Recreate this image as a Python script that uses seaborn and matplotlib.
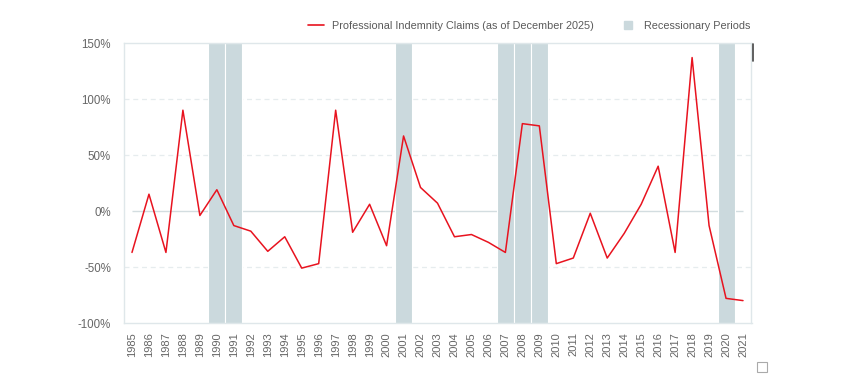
import matplotlib
matplotlib.use('Agg')  # no GUI

import matplotlib.pyplot as plt
from matplotlib.lines import Line2D
from matplotlib.patches import Rectangle
import seaborn as sns

years = list(range(1985, 2022))
claims = [-37, 15, -37, 90, -4, 19, -13, -18, -36, -23, -51, -47, 90, -19, 6,
          -31, 67, 21, 7, -23, -21, -28, -37, 78, 76, -47, -42, -2, -42, -20,
          6, 40, -37, 137, -13, -78, -80]
recession_years = [1990, 1991, 2001, 2007, 2008, 2009, 2020]
y_ticks = [-100, -50, 0, 50, 100, 150]
y_labels = ['-100%', '-50%', '0%', '50%', '100%', '150%']

line_label = 'Professional Indemnity Claims (as of December 2025)'
band_label = 'Recessionary Periods'

red = '#e8131f'
band = '#cbd9dd'
light = '#dfe7ea'
txt = '#666666'

sns.set_theme(style='white')
plt.rcParams['font.family'] = ['Liberation Sans', 'DejaVu Sans']

fig = plt.figure(figsize=(8.5, 3.84), dpi=100)
ax = fig.add_axes([123.5 / 850, 61 / 384, 628 / 850, 280 / 384])

ax.set_xlim(years[0] - 0.5, years[-1] + 0.5)
ax.set_ylim(y_ticks[0], y_ticks[-1])

# dashed grid (not on 0 and not on the frame)
for v in y_ticks[1:-1]:
    if v != 0:
        ax.axhline(v, color='#e6ecee', lw=0.9, ls=(0, (4, 3)), zorder=0)
ax.hlines(0, years[0], years[-1], color='#d3dde0', lw=1.0, zorder=0)

# recession bands
ax.bar(recession_years, y_ticks[-1] - y_ticks[0], bottom=y_ticks[0], width=1,
       color=band, edgecolor='white', linewidth=0.8, zorder=1)

sns.lineplot(x=years, y=claims, color=red, lw=1.1, ax=ax, zorder=3)

ax.set_xticks(years)
ax.set_xticklabels([str(y) for y in years], rotation=90, fontsize=8, color=txt)
ax.set_yticks(y_ticks)
ax.set_yticklabels(y_labels, fontsize=8.3, color=txt)
ax.tick_params(axis='x', length=0, pad=6.5)
ax.tick_params(axis='y', length=0, pad=9)
ax.set_xlabel('')
ax.set_ylabel('')
for s in ax.spines.values():
    s.set_color(light)
    s.set_linewidth(1.0)

handles = [
    Line2D([0], [0], color=red, lw=1.2),
    Line2D([0], [0], marker='s', color='none', markerfacecolor=band,
           markeredgecolor=band, markersize=6),
]
fig.legend(handles, [line_label, band_label], loc='center right',
           bbox_to_anchor=(755 / 850, 1 - 26 / 384), ncol=2, frameon=False,
           fontsize=7.8, labelcolor='#5a5a5a', handlelength=1.4,
           handletextpad=0.8, columnspacing=2.45, borderaxespad=0)

# small artifacts from the original screenshot
fig.add_artist(Line2D([752.5 / 850, 752.5 / 850], [1 - 44 / 384, 1 - 61 / 384],
                      color='#444444', lw=1.2))
fig.add_artist(Rectangle((757 / 850, 1 - 372 / 384), 10 / 850, 10 / 384,
                         fill=False, edgecolor='#aaaaaa', lw=0.8))

plt.savefig('out.png', dpi=100)
